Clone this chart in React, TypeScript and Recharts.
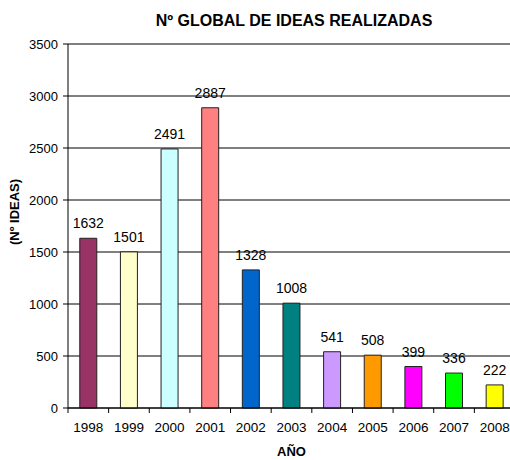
import React from 'react';
import { BarChart, Bar, XAxis, YAxis, CartesianGrid, Cell, LabelList, Label } from 'recharts';

const years = ['1998', '1999', '2000', '2001', '2002', '2003', '2004', '2005', '2006', '2007', '2008'];
const ideas = [1632, 1501, 2491, 2887, 1328, 1008, 541, 508, 399, 336, 222];
const barColors = [
  '#993366', '#FFFFCC', '#CCFFFF', '#FF8080', '#0066CC', '#008080',
  '#CC99FF', '#FF9900', '#FF00FF', '#00FF00', '#FFFF00',
];
const yTicks = [0, 500, 1000, 1500, 2000, 2500, 3000, 3500];

const data = years.map((year, i) => ({ year, ideas: ideas[i] }));

const FONT = '"Liberation Sans", Arial, sans-serif';
const CHART_W = 515;
const PLOT_LEFT = 68;
const BAND = (CHART_W - PLOT_LEFT) / years.length;

// year label plus a tick mark on the boundary between categories
const YearTick = (props: any) => {
  const { x, y, payload } = props;
  const bx = x - BAND / 2;
  return (
    <g>
      <line x1={bx} y1={y - 8} x2={bx} y2={y - 3} stroke="#000" />
      <text x={x} y={y + 16} textAnchor="middle" fontSize={13.5} fontFamily={FONT} fill="#000">
        {payload.value}
      </text>
    </g>
  );
};

const YTitle = (props: any) => {
  const vb = props.viewBox;
  const x = vb.x + 6;
  const y = vb.y + vb.height / 2 - 14;
  return (
    <text
      x={x}
      y={y}
      transform={`rotate(-90 ${x} ${y})`}
      textAnchor="middle"
      dominantBaseline="central"
      fontSize={13}
      fontWeight="bold"
      fontFamily={FONT}
      fill="#000"
    >
      (Nº IDEAS)
    </text>
  );
};

export default function App() {
  return (
    <div style={{ position: 'absolute', left: 0, top: 0, width: 510, height: 460, overflow: 'hidden', background: '#fff' }}>
      <div
        style={{
          position: 'absolute',
          left: 94,
          width: 400,
          top: 12,
          textAlign: 'center',
          fontFamily: FONT,
          fontWeight: 'bold',
          fontSize: 16,
          color: '#000',
        }}
      >
        Nº GLOBAL DE IDEAS REALIZADAS
      </div>
      <BarChart
        width={CHART_W}
        height={460}
        data={data}
        margin={{ top: 44, right: 0, bottom: 22, left: 8 }}
        barCategoryGap="29%"
      >
        <CartesianGrid vertical={false} stroke="#000" strokeWidth={1} />
        <XAxis
          dataKey="year"
          stroke="#000"
          height={30}
          tickLine={false}
          tick={<YearTick />}
          interval={0}
        >
          <Label
            value="AÑO"
            position="insideBottom"
            offset={-18}
            style={{ fontFamily: FONT, fontSize: 13, fontWeight: 'bold', fill: '#000' }}
          />
        </XAxis>
        <YAxis
          width={60}
          domain={[0, 3500]}
          ticks={yTicks}
          stroke="#000"
          tickSize={5}
          tickMargin={5}
          tick={{ fill: '#000', fontSize: 13, fontFamily: FONT }}
          label={<YTitle />}
        />
        <Bar dataKey="ideas" stroke="#222" strokeWidth={1} isAnimationActive={false}>
          {data.map((d, i) => (
            <Cell key={d.year} fill={barColors[i]} />
          ))}
          <LabelList
            dataKey="ideas"
            position="top"
            offset={10}
            style={{ fontFamily: FONT, fontSize: 14, fill: '#000' }}
          />
        </Bar>
      </BarChart>
    </div>
  );
}
